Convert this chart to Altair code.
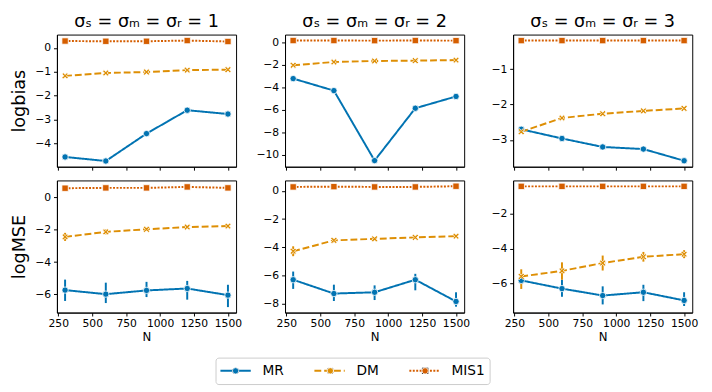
import altair as alt
import pandas as pd

N = [300, 600, 900, 1200, 1500]
series_names = ["MR", "DM", "MIS1"]
series_colors = ["#0173b2", "#de8f05", "#d55e00"]
sigmas = [1, 2, 3]
metrics = ["logbias", "logMSE"]
x_ticks = [250, 500, 750, 1000, 1250, 1500]

# ---- logbias ----
bias_s1_MR = [-4.57, -4.74, -3.59, -2.61, -2.77]
bias_s1_DM = [-1.17, -1.05, -1.01, -0.93, -0.91]
bias_s1_MIS1 = [0.29, 0.28, 0.28, 0.31, 0.27]
bias_s2_MR = [-3.22, -4.29, -10.52, -5.86, -4.81]
bias_s2_DM = [-2.03, -1.74, -1.65, -1.62, -1.57]
bias_s2_MIS1 = [0.17, 0.17, 0.16, 0.17, 0.16]
bias_s3_MR = [-2.70, -2.96, -3.20, -3.26, -3.59]
bias_s3_DM = [-2.77, -2.38, -2.26, -2.18, -2.11]
bias_s3_MIS1 = [-0.19, -0.19, -0.19, -0.19, -0.19]

# ---- logMSE (with error bars) ----
mse_s1_MR = [-5.73, -5.98, -5.75, -5.63, -6.04]
mse_s1_MR_lo = [-6.40, -6.53, -6.16, -6.32, -6.78]
mse_s1_MR_hi = [-5.08, -5.27, -5.22, -5.16, -5.40]
mse_s1_DM = [-2.44, -2.13, -1.97, -1.83, -1.77]
mse_s1_DM_lo = [-2.69, -2.28, -2.07, -1.93, -1.87]
mse_s1_DM_hi = [-2.19, -1.98, -1.87, -1.73, -1.67]
mse_s1_MIS1 = [0.57, 0.59, 0.59, 0.65, 0.59]

mse_s2_MR = [-6.30, -7.28, -7.19, -6.30, -7.84]
mse_s2_MR_lo = [-6.95, -7.81, -7.74, -7.05, -8.21]
mse_s2_MR_hi = [-5.72, -6.65, -6.70, -5.88, -7.19]
mse_s2_DM = [-4.28, -3.51, -3.40, -3.30, -3.21]
mse_s2_DM_lo = [-4.63, -3.65, -3.50, -3.40, -3.30]
mse_s2_DM_hi = [-3.93, -3.37, -3.30, -3.20, -3.12]
mse_s2_MIS1 = [0.28, 0.30, 0.28, 0.28, 0.33]

mse_s3_MR = [-5.83, -6.30, -6.70, -6.51, -6.98]
mse_s3_MR_lo = [-6.03, -6.77, -7.21, -7.02, -7.30]
mse_s3_MR_hi = [-5.65, -5.79, -6.17, -6.08, -6.51]
mse_s3_DM = [-5.60, -5.28, -4.83, -4.47, -4.32]
mse_s3_DM_lo = [-6.32, -5.79, -5.26, -4.75, -4.55]
mse_s3_DM_hi = [-5.19, -4.79, -4.40, -4.19, -4.09]
mse_s3_MIS1 = [-0.42, -0.42, -0.42, -0.42, -0.42]

# y domains / ticks per panel (row, col)
y_domains = {
    ("logbias", 1): [-4.98, 0.56], ("logbias", 2): [-11.07, 0.70], ("logbias", 3): [-3.76, -0.02],
    ("logMSE", 1): [-7.12, 1.05], ("logMSE", 2): [-8.63, 0.74], ("logMSE", 3): [-7.68, -0.08],
}
y_ticks = {
    ("logbias", 1): [-4, -3, -2, -1, 0], ("logbias", 2): [-10, -8, -6, -4, -2, 0], ("logbias", 3): [-3, -2, -1],
    ("logMSE", 1): [-6, -4, -2, 0], ("logMSE", 2): [-8, -6, -4, -2, 0], ("logMSE", 3): [-6, -4, -2],
}

values = {
    ("logbias", 1): (bias_s1_MR, bias_s1_DM, bias_s1_MIS1),
    ("logbias", 2): (bias_s2_MR, bias_s2_DM, bias_s2_MIS1),
    ("logbias", 3): (bias_s3_MR, bias_s3_DM, bias_s3_MIS1),
    ("logMSE", 1): (mse_s1_MR, mse_s1_DM, mse_s1_MIS1),
    ("logMSE", 2): (mse_s2_MR, mse_s2_DM, mse_s2_MIS1),
    ("logMSE", 3): (mse_s3_MR, mse_s3_DM, mse_s3_MIS1),
}
errors = {
    ("logMSE", 1): {"MR": (mse_s1_MR_lo, mse_s1_MR_hi), "DM": (mse_s1_DM_lo, mse_s1_DM_hi)},
    ("logMSE", 2): {"MR": (mse_s2_MR_lo, mse_s2_MR_hi), "DM": (mse_s2_DM_lo, mse_s2_DM_hi)},
    ("logMSE", 3): {"MR": (mse_s3_MR_lo, mse_s3_MR_hi), "DM": (mse_s3_DM_lo, mse_s3_DM_hi)},
}

rows = []
for key, triple in values.items():
    for s_i, s in enumerate(series_names):
        vals = triple[s_i]
        err = errors.get(key, {}).get(s)
        for j, n in enumerate(N):
            lo = err[0][j] if err else vals[j]
            hi = err[1][j] if err else vals[j]
            rows.append({"metric": key[0], "sigma": key[1], "series": s,
                         "series_p": s, "order": s_i,
                         "N": n, "value": vals[j], "lo": lo, "hi": hi})
df = pd.DataFrame(rows)

X_SHAPE = "M0,-0.42L0.58,-1L1,-0.58L0.42,0L1,0.58L0.58,1L0,0.42L-0.58,1L-1,0.58L-0.42,0L-1,-0.58L-0.58,-1Z"

LEG_X, LEG_Y = 162, 330

stroke_enc = alt.Stroke(
    "series:N",
    scale=alt.Scale(domain=series_names, range=series_colors),
    legend=alt.Legend(orient="none", legendX=LEG_X, legendY=LEG_Y, direction="horizontal",
                      columns=3, title=None, symbolType="stroke", symbolSize=960,
                      symbolStrokeWidth=2, labelFontSize=14, labelOffset=11,
                      columnPadding=30, strokeColor="#cccccc", padding=4,
                      clipHeight=19, cornerRadius=3, labelFont="DejaVu Sans",
                      labelColor="black"),
)
dash_enc = alt.StrokeDash(
    "series:N",
    scale=alt.Scale(domain=series_names, range=[[1, 0], [7, 3], [2, 1.5]]),
)
# marker legend: overlaid on the line legend, markers centred on the lines, no labels
marker_legend = alt.Legend(orient="none", legendX=LEG_X, legendY=LEG_Y, direction="horizontal",
                           columns=3, title=None, symbolSize=42, labelFontSize=14,
                           labelOffset=10, symbolOffset=9.5, columnPadding=62.8, padding=4,
                           clipHeight=19, labelExpr="''", labelColor="white",
                           labelFont="DejaVu Sans", zindex=2, symbolStrokeColor="white",
                           symbolStrokeWidth=0.8)
fill_enc = alt.Fill(
    "series_p:N", sort=series_names,
    scale=alt.Scale(range=series_colors),
    legend=marker_legend,
)
shape_enc = alt.Shape(
    "series_p:N", sort=series_names,
    scale=alt.Scale(range=["circle", X_SHAPE, "square"]),
    legend=marker_legend,
)

panels = []
for metric in metrics:
    for c, sg in enumerate(sigmas):
        key = (metric, sg)
        is_top = metric == "logbias"
        x = alt.X("N:Q", scale=alt.Scale(domain=[240, 1560], nice=False, zero=False),
                  axis=alt.Axis(values=x_ticks, labels=not is_top, labelOverlap=False,
                                title=None if is_top else "N", titleFontSize=12,
                                titlePadding=3, labelPadding=2, format="d"))
        y_scale = alt.Scale(domain=y_domains[key], nice=False, zero=False)
        y_axis = alt.Axis(values=y_ticks[key], title=metric if c == 0 else None,
                          labelOverlap=False, titleFontSize=18, titlePadding=6,
                          labelPadding=3)
        y = alt.Y("value:Q", scale=y_scale, axis=y_axis)
        y_lo = alt.Y("lo:Q", scale=y_scale, axis=y_axis)
        base = alt.Chart(df).transform_filter(
            (alt.datum.metric == metric) & (alt.datum.sigma == sg)
        )
        err = base.mark_rule(strokeWidth=2).encode(
            x=x, y=y_lo, y2="hi:Q", stroke=stroke_enc
        )
        line = base.mark_line(strokeWidth=2).encode(
            x=x, y=y, stroke=stroke_enc, strokeDash=dash_enc,
            order="N:Q", detail="series:N"
        )
        pts = base.mark_point(filled=True, size=42, stroke="white", strokeWidth=0.8,
                              opacity=1).encode(
            x=x, y=y, fill=fill_enc, shape=shape_enc
        )
        props = dict(width=183, height=135)
        if is_top:
            props["title"] = alt.Title(f"σₛ = σₘ = σᵣ = {sg}", fontSize=18,
                                       fontWeight="normal", font="DejaVu Sans",
                                       offset=4, color="black")
        panels.append(alt.layer(line, err, pts).properties(**props))

chart = alt.concat(*panels, columns=3, spacing={"row": 14, "column": 50},
                   bounds="flush").properties(
    padding={"left": 2, "top": 0, "right": 5, "bottom": 5},
    background="white",
).configure_view(
    stroke="black", strokeWidth=1
).configure_axis(
    domainColor="black", tickColor="black", tickSize=3.5, labelFontSize=11,
    labelColor="black", titleColor="black", labelFont="DejaVu Sans",
    titleFont="DejaVu Sans", titleFontWeight="normal", grid=False,
)

chart.save("out.html", embed_options={"renderer": "svg", "actions": False})
